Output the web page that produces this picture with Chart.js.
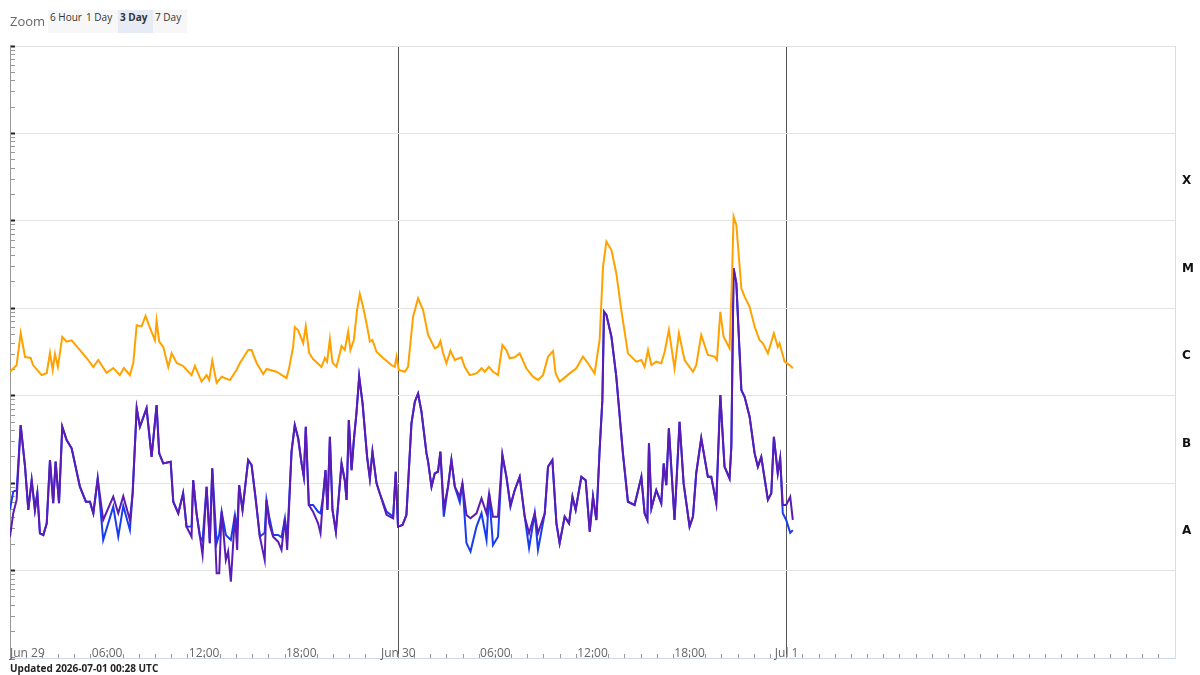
<!DOCTYPE html>
<html>
<head>
<meta charset="utf-8">
<script src="https://cdn.jsdelivr.net/npm/chart.js@4.4.1/dist/chart.umd.min.js"></script>
<style>
html, body { margin: 0; padding: 0; background: #fff; }
#wrap { position: relative; width: 1200px; height: 675px; overflow: hidden; }
#myChart { position: absolute; left: 0; top: 0; }
#zoomLabel { position: absolute; left: 10px; top: 12px; font: 13px "Open Sans", sans-serif; color: #666; }
#zoomBtns { position: absolute; left: 48px; top: 10px; display: flex; }
#zoomBtns span { display: block; height: 23px; line-height: 17px; padding: 0 2px; font: 10px "Open Sans", sans-serif; color: #333; background: #f7f7f7; box-sizing: border-box; }
#zoomBtns span.sel { background: #e6ebf5; font-weight: bold; }
#updated { position: absolute; left: 10px; top: 661px; font: bold 10px "Open Sans", sans-serif; color: #222; }
</style>
</head>
<body>
<div id="wrap">
  <canvas id="myChart" width="1200" height="675"></canvas>
  <div id="zoomLabel">Zoom</div>
  <div id="zoomBtns">
    <span style="width:36px">6 Hour</span>
    <span style="width:34px">1 Day</span>
    <span class="sel" style="width:35px">3 Day</span>
    <span style="width:34px">7 Day</span>
  </div>
  <div id="updated">Updated 2026-07-01 00:28 UTC</div>
</div>
<script>
// hours since Jun 29 00:00 UTC
const tickHours = [0, 6, 12, 18, 24, 30, 36, 42, 48];
const tickLabels = ['Jun 29', '06:00', '12:00', '18:00', 'Jun 30', '06:00', '12:00', '18:00', 'Jul 1'];
const dayLines = [24, 48];

const classLetters = ['X', 'M', 'C', 'B', 'A'];
const classFlux = [3.16e-4, 3.16e-5, 3.16e-6, 3.16e-7, 3.16e-8];

// 0.1-0.8 nm (long) flux, W/m2
const longHours = [0, 0.41, 0.66, 0.93, 1.28, 1.42, 1.96, 2.27, 2.47, 2.64, 2.78, 2.96, 3.23, 3.50, 3.81, 4.74, 5.15, 5.45, 5.97, 6.38,
  6.79, 7.04, 7.41, 7.62, 7.83, 8.13, 8.38, 8.65, 8.96, 9.06, 9.22, 9.47, 9.78, 9.99, 10.30, 10.70, 11.22, 11.43, 11.84, 12.15,
  12.31, 12.50, 12.77, 13.08, 13.59, 14.00, 14.21, 14.72, 14.93, 15.24, 15.65, 15.86, 16.47, 17.09, 17.25, 17.50, 17.60, 17.81, 18.12, 18.28,
  18.49, 18.73, 19.25, 19.46, 19.60, 19.77, 19.93, 20.18, 20.49, 20.69, 20.90, 21.04, 21.25, 21.45, 21.62, 21.82, 22.07, 22.24, 22.40, 22.65,
  23.06, 23.58, 23.78, 23.89, 24.03, 24.40, 24.60, 24.91, 25.22, 25.53, 25.84, 26.25, 26.45, 26.60, 26.76, 26.97, 27.22, 27.49, 27.90, 28.10,
  28.41, 28.83, 29.14, 29.34, 29.60, 29.85, 30.16, 30.43, 30.68, 30.88, 31.19, 31.50, 31.91, 32.32, 32.63, 32.94, 33.25, 33.56, 33.72, 33.97,
  34.59, 35.00, 35.41, 35.72, 36.13, 36.44, 36.65, 36.86, 37.17, 37.47, 37.78, 38.19, 38.71, 39.02, 39.22, 39.43, 39.64, 39.94, 40.25, 40.46,
  40.72, 41.07, 41.34, 41.69, 42.21, 42.41, 42.72, 43.13, 43.54, 43.69, 43.90, 44.10, 44.47, 44.61, 44.72, 44.89, 45.20, 45.40, 45.71, 46.02,
  46.32, 46.53, 46.84, 47.21, 47.45, 47.56, 47.87, 48.18, 48.38];
const longFlux = [1.88e-6, 2.24e-6, 5.2e-6, 2.77e-6, 2.70e-6, 2.24e-6, 1.72e-6, 1.82e-6, 3.1e-6, 1.97e-6, 3.0e-6, 2.14e-6, 4.7e-6, 4.15e-6, 4.3e-6, 2.7e-6, 2.13e-6, 2.56e-6, 1.83e-6, 2.07e-6,
  1.72e-6, 2.07e-6, 1.72e-6, 2.37e-6, 6.4e-6, 6.2e-6, 8.2e-6, 5.95e-6, 4.3e-6, 7.2e-6, 4.15e-6, 3.63e-6, 2.13e-6, 3.05e-6, 2.37e-6, 2.19e-6, 1.72e-6, 2.19e-6, 1.45e-6, 1.72e-6,
  1.51e-6, 2.52e-6, 1.40e-6, 1.65e-6, 1.51e-6, 1.97e-6, 2.37e-6, 3.33e-6, 3.33e-6, 2.37e-6, 1.77e-6, 2.02e-6, 1.88e-6, 1.59e-6, 2.07e-6, 3.63e-6, 6.1e-6, 5.6e-6, 4.0e-6, 6.2e-6,
  3.08e-6, 2.63e-6, 2.13e-6, 2.70e-6, 2.45e-6, 4.45e-6, 2.39e-6, 2.14e-6, 3.7e-6, 3.33e-6, 5.4e-6, 3.33e-6, 4.34e-6, 9.55e-6, 1.46e-5, 1.04e-5, 6.2e-6, 4.15e-6, 4.34e-6, 3.18e-6,
  2.7e-6, 2.24e-6, 2.14e-6, 2.80e-6, 1.97e-6, 1.88e-6, 2.14e-6, 8.0e-6, 1.30e-5, 9.55e-6, 4.95e-6, 3.48e-6, 3.63e-6, 4.22e-6, 3.1e-6, 2.35e-6, 3.27e-6, 2.56e-6, 2.75e-6, 2.14e-6,
  1.72e-6, 1.80e-6, 2.06e-6, 1.88e-6, 2.14e-6, 1.88e-6, 1.72e-6, 3.8e-6, 3.33e-6, 2.68e-6, 2.75e-6, 3.05e-6, 2.06e-6, 1.65e-6, 1.51e-6, 1.72e-6, 2.80e-6, 3.24e-6, 1.80e-6, 1.45e-6,
  1.80e-6, 2.06e-6, 2.80e-6, 2.35e-6, 1.80e-6, 4.34e-6, 2.99e-5, 5.78e-5, 4.64e-5, 2.52e-5, 9.55e-6, 3.05e-6, 2.45e-6, 2.56e-6, 2.14e-6, 3.33e-6, 2.24e-6, 2.45e-6, 2.35e-6, 3.18e-6,
  5.64e-6, 2.06e-6, 5.17e-6, 2.56e-6, 1.88e-6, 2.24e-6, 4.95e-6, 2.92e-6, 2.80e-6, 2.56e-6, 9.1e-6, 4.73e-6, 3.48e-6, 1.93e-5, 1.12e-4, 8.97e-5, 1.69e-5, 1.36e-5, 1.04e-5, 6.15e-6,
  4.34e-6, 3.98e-6, 3.05e-6, 5.17e-6, 3.63e-6, 3.98e-6, 2.45e-6, 2.24e-6, 2.06e-6];

// 0.05-0.4 nm (short) flux, primary and secondary
const shortHours = [0, 0.20, 0.41, 0.66, 0.93, 1.13, 1.34, 1.54, 1.69, 1.85, 2.06, 2.27, 2.47, 2.67, 2.82, 3.03, 3.23, 3.50, 3.81, 4.32,
  4.69, 4.94, 5.15, 5.42, 5.76, 6.38, 6.69, 7.00, 7.41, 7.58, 7.83, 8.03, 8.44, 8.75, 9.06, 9.22, 9.47, 9.93, 10.09, 10.40,
  10.70, 10.91, 11.22, 11.32, 11.53, 11.74, 11.90, 12.15, 12.35, 12.50, 12.77, 12.93, 13.08, 13.34, 13.48, 13.65, 13.90, 14.04, 14.16, 14.37,
  14.58, 14.72, 14.93, 15.19, 15.44, 15.74, 15.85, 16.02, 16.26, 16.57, 16.78, 16.99, 17.13, 17.40, 17.60, 17.81, 18.02, 18.16, 18.28, 18.47,
  18.73, 19.04, 19.19, 19.35, 19.50, 19.62, 19.77, 19.93, 20.14, 20.49, 20.69, 20.80, 20.94, 21.11, 21.25, 21.41, 21.58, 21.79, 22.07, 22.24,
  22.40, 22.65, 22.85, 23.27, 23.68, 23.84, 23.98, 24.26, 24.50, 24.81, 25.02, 25.22, 25.43, 25.74, 25.84, 26.05, 26.25, 26.45, 26.60, 26.81,
  27.07, 27.28, 27.49, 27.80, 27.96, 28.21, 28.46, 28.83, 29.14, 29.45, 29.61, 29.85, 30.16, 30.43, 30.68, 30.93, 31.19, 31.50, 31.81, 32.08,
  32.43, 32.63, 33.05, 33.25, 33.52, 33.77, 33.97, 34.28, 34.55, 34.76, 34.96, 35.31, 35.58, 35.83, 36.03, 36.24, 36.44, 36.61, 36.71, 36.86,
  37.17, 37.47, 37.88, 38.19, 38.60, 39.02, 39.22, 39.39, 39.49, 39.64, 39.94, 40.25, 40.40, 40.56, 40.72, 41.07, 41.38, 41.63, 42.00, 42.21,
  42.41, 42.72, 43.13, 43.34, 43.65, 43.90, 44.16, 44.47, 44.58, 44.72, 44.89, 45.20, 45.40, 45.71, 46.02, 46.22, 46.43, 46.84, 47.05, 47.21,
  47.45, 47.60, 47.76, 47.97, 48.22, 48.38];
const shortFlux = [2.44e-8, 4.52e-8, 6.43e-8, 4.62e-7, 1.54e-7, 4.94e-8, 1.08e-7, 4.94e-8, 7.7e-8, 2.67e-8, 2.55e-8, 3.47e-8, 1.84e-7, 5.89e-8, 1.76e-7, 5.89e-8, 4.42e-7, 3.11e-7, 2.50e-7, 9.1e-8,
  6.13e-8, 6.13e-8, 4.52e-8, 1.13e-7, 3.79e-8, 7.0e-8, 4.52e-8, 7.1e-8, 3.79e-8, 7.7e-8, 7.18e-7, 4.42e-7, 7.18e-7, 2.0e-7, 7.8e-7, 2.19e-7, 1.68e-7, 1.76e-7, 6.13e-8, 4.52e-8,
  7.66e-8, 3.18e-8, 2.44e-8, 1.08e-7, 4.52e-8, 2.44e-8, 1.51e-8, 9.1e-8, 2.05e-8, 1.48e-7, 9.3e-9, 9.3e-9, 4.72e-8, 1.32e-8, 1.65e-8, 7.46e-9, 4.33e-8, 1.72e-8, 9.5e-8, 4.94e-8,
  1.08e-7, 1.84e-7, 1.61e-7, 6.43e-8, 2.44e-8, 1.32e-8, 6.43e-8, 3.47e-8, 2.44e-8, 2.14e-8, 1.72e-8, 3.96e-8, 1.72e-8, 2.29e-7, 4.62e-7, 3.26e-7, 1.68e-7, 1.18e-7, 4.42e-7, 5.63e-8,
  4.72e-8, 3.47e-8, 2.67e-8, 7.0e-8, 1.41e-7, 4.94e-8, 3.39e-7, 4.94e-8, 2.79e-8, 1.68e-7, 1.08e-7, 6.43e-8, 5.27e-7, 1.41e-7, 3.11e-7, 6.28e-7, 1.65e-6, 8.17e-7, 2.0e-7, 1.13e-7,
  2.29e-7, 1.0e-7, 7.66e-8, 4.33e-8, 3.96e-8, 1.35e-7, 3.18e-8, 3.32e-8, 4.33e-8, 4.83e-7, 8.53e-7, 1.06e-6, 6.56e-7, 2.19e-7, 1.76e-7, 9.1e-8, 1.29e-7, 1.35e-7, 2.29e-7, 5.16e-8,
  9.1e-8, 1.84e-7, 9.1e-8, 7.0e-8, 1.0e-7, 4.33e-8, 3.96e-8, 4.52e-8, 6.7e-8, 4.52e-8, 7.66e-8, 4.14e-8, 4.14e-8, 2.1e-7, 1.18e-7, 5.63e-8, 8.3e-8, 1.18e-7, 4.14e-8, 2.67e-8,
  4.52e-8, 2.67e-8, 4.52e-8, 1.54e-7, 1.84e-7, 3.47e-8, 2.05e-8, 4.14e-8, 3.47e-8, 7.0e-8, 4.94e-8, 1.18e-7, 1.08e-7, 2.79e-8, 7.0e-8, 3.79e-8, 2.39e-7, 8.9e-7, 9.14e-6, 8.4e-6,
  4.73e-6, 1.65e-6, 2.19e-7, 6.13e-8, 5.63e-8, 1.18e-7, 4.52e-8, 3.79e-8, 2.85e-7, 5.16e-8, 8.3e-8, 5.89e-8, 1.68e-7, 9.5e-8, 4.24e-7, 3.79e-8, 5.04e-7, 1.0e-7, 3.18e-8, 4.14e-8,
  1.29e-7, 3.26e-7, 1.18e-7, 1.18e-7, 5.89e-8, 1.02e-6, 1.54e-7, 1.13e-7, 2.61e-7, 2.87e-5, 1.93e-5, 1.16e-6, 9.7e-7, 5.75e-7, 2.19e-7, 1.54e-7, 2.0e-7, 6.43e-8, 7.66e-8, 3.39e-7,
  1.29e-7, 1.92e-7, 5.63e-8, 5.63e-8, 7.0e-8, 3.79e-8];
const shortFlux2 = [5.0e-8, 8.0e-8, 8.3e-8, 4.62e-7, 1.54e-7, 4.94e-8, 1.08e-7, 4.94e-8, 7.7e-8, 2.67e-8, 2.55e-8, 3.47e-8, 1.84e-7, 5.89e-8, 1.76e-7, 5.89e-8, 4.42e-7, 3.11e-7, 2.50e-7, 9.1e-8,
  6.13e-8, 6.13e-8, 4.52e-8, 1.13e-7, 2.24e-8, 5.38e-8, 2.44e-8, 5.5e-8, 2.91e-8, 7.7e-8, 7.18e-7, 4.42e-7, 7.18e-7, 2.0e-7, 7.8e-7, 2.19e-7, 1.68e-7, 1.76e-7, 6.13e-8, 4.52e-8,
  7.66e-8, 3.18e-8, 3.2e-8, 1.08e-7, 4.52e-8, 2.44e-8, 2.2e-8, 9.1e-8, 2.05e-8, 1.48e-7, 2.05e-8, 2.6e-8, 4.72e-8, 2.55e-8, 2.4e-8, 2.24e-8, 4.33e-8, 2.91e-8, 9.5e-8, 4.94e-8,
  1.08e-7, 1.84e-7, 1.61e-7, 6.43e-8, 2.44e-8, 2.7e-8, 6.43e-8, 4.14e-8, 2.55e-8, 2.55e-8, 2.4e-8, 3.96e-8, 2.24e-8, 2.29e-7, 4.62e-7, 3.26e-7, 1.68e-7, 1.18e-7, 4.42e-7, 5.63e-8,
  5.63e-8, 4.72e-8, 4.52e-8, 7.0e-8, 1.41e-7, 4.94e-8, 3.39e-7, 4.94e-8, 2.79e-8, 1.68e-7, 1.08e-7, 6.43e-8, 5.27e-7, 1.41e-7, 3.11e-7, 6.28e-7, 1.65e-6, 8.17e-7, 2.0e-7, 1.13e-7,
  2.29e-7, 1.0e-7, 7.66e-8, 4.72e-8, 4.14e-8, 1.35e-7, 3.18e-8, 3.32e-8, 4.33e-8, 4.83e-7, 8.53e-7, 1.06e-6, 6.56e-7, 2.19e-7, 1.76e-7, 9.1e-8, 1.29e-7, 1.35e-7, 2.29e-7, 4.14e-8,
  9.1e-8, 1.84e-7, 9.1e-8, 6.0e-8, 1.0e-7, 2.07e-8, 1.65e-8, 3.18e-8, 4.52e-8, 2.24e-8, 7.66e-8, 1.96e-8, 2.44e-8, 2.1e-7, 1.18e-7, 5.38e-8, 8.3e-8, 1.18e-7, 4.14e-8, 1.81e-8,
  4.52e-8, 1.72e-8, 4.52e-8, 1.54e-7, 1.84e-7, 3.47e-8, 2.05e-8, 4.14e-8, 3.47e-8, 7.0e-8, 4.94e-8, 1.18e-7, 1.08e-7, 2.79e-8, 7.0e-8, 3.79e-8, 2.39e-7, 8.9e-7, 9.14e-6, 8.4e-6,
  4.73e-6, 1.65e-6, 2.19e-7, 6.13e-8, 5.63e-8, 1.18e-7, 4.52e-8, 3.79e-8, 2.85e-7, 5.16e-8, 8.3e-8, 5.89e-8, 1.68e-7, 9.5e-8, 4.24e-7, 3.79e-8, 5.04e-7, 1.0e-7, 3.18e-8, 4.14e-8,
  1.29e-7, 3.26e-7, 1.18e-7, 1.18e-7, 5.89e-8, 1.02e-6, 1.54e-7, 1.13e-7, 2.61e-7, 2.87e-5, 1.93e-5, 1.16e-6, 9.7e-7, 5.75e-7, 2.19e-7, 1.54e-7, 2.0e-7, 6.43e-8, 7.66e-8, 3.39e-7,
  1.29e-7, 1.92e-7, 4.52e-8, 3.79e-8, 2.7e-8, 2.9e-8];

function toPoints(hours, flux) {
    let pts = []
    const n = Math.min(hours.length, flux.length)
    for (let i = 0; i < n; i++) {
        pts.push({ x: hours[i], y: flux[i] })
    }
    return pts
}

function isDecade(v) {
    const l = Math.log10(v)
    return Math.abs(l - Math.round(l)) < 1e-6
}

const data = {
    datasets: [
        { label: 'Long', data: toPoints(longHours, longFlux), borderColor: '#ffa200', borderWidth: 2, pointRadius: 0 },
        { label: 'Short', data: toPoints(shortHours, shortFlux), borderColor: '#5a1cb4', borderWidth: 2, pointRadius: 0 },
        { label: 'Short 2', data: toPoints(shortHours, shortFlux2), borderColor: '#1a3cf0', borderWidth: 2, pointRadius: 0 },
    ]
};

const options = {
    responsive: false,
    animation: false,
    layout: { padding: { left: 10, top: 46, right: 0, bottom: 17 } },
    plugins: { legend: { display: false }, tooltip: { enabled: false } },
    scales: {
        x: {
            type: 'linear',
            min: 0,
            max: 72,
            afterFit: (s) => { s.height = 0 },
            afterBuildTicks: (s) => {
                let t = []
                for (let h = 0; h <= 72; h++) t.push({ value: h })
                s.ticks = t
            },
            grid: {
                tickLength: -4,
                color: (ctx) => (ctx.tick && dayLines.includes(ctx.tick.value)) ? '#555' : 'rgba(0,0,0,0)',
                tickColor: '#999',
            },
            border: { color: '#ccd6eb' },
            ticks: {
                autoSkip: false,
                maxRotation: 0,
                mirror: true,
                align: 'inner',
                padding: -3,
                color: '#666',
                font: { size: 12, family: 'Open Sans' },
                callback: (v) => {
                    const i = tickHours.indexOf(v)
                    return i >= 0 ? tickLabels[i] : ''
                }
            }
        },
        y: {
            type: 'logarithmic',
            min: 1e-9,
            max: 1e-2,
            afterFit: (s) => { s.width = 0 },
            afterBuildTicks: (s) => {
                let t = []
                for (let e = -9; e < -2; e++) {
                    for (let m = 1; m < 10; m++) t.push({ value: m * Math.pow(10, e) })
                }
                t.push({ value: 1e-2 })
                s.ticks = t
            },
            ticks: { display: false },
            grid: {
                tickLength: -5,
                color: (ctx) => (ctx.tick && isDecade(ctx.tick.value)) ? '#e3e3e3' : 'rgba(0,0,0,0)',
                tickColor: (ctx) => (ctx.tick && isDecade(ctx.tick.value)) ? '#222' : '#999',
                tickWidth: (ctx) => (ctx.tick && isDecade(ctx.tick.value)) ? 2 : 1,
            },
            border: { color: '#999' }
        },
        y2: {
            type: 'logarithmic',
            position: 'right',
            min: 1e-9,
            max: 1e-2,
            afterFit: (s) => { s.width = 25 },
            afterBuildTicks: (s) => { s.ticks = classFlux.map(v => ({ value: v })) },
            grid: { display: false, drawTicks: false },
            border: { color: '#dcdce6' },
            ticks: {
                padding: 7,
                labelOffset: 4,
                color: '#111',
                font: { size: 12, weight: 'bold', family: 'DejaVu Sans' },
                callback: (v, i) => classLetters[i]
            }
        }
    }
};

const chart = new Chart(document.getElementById('myChart'), { type: 'line', data: data, options: options });
</script>
</body>
</html>
